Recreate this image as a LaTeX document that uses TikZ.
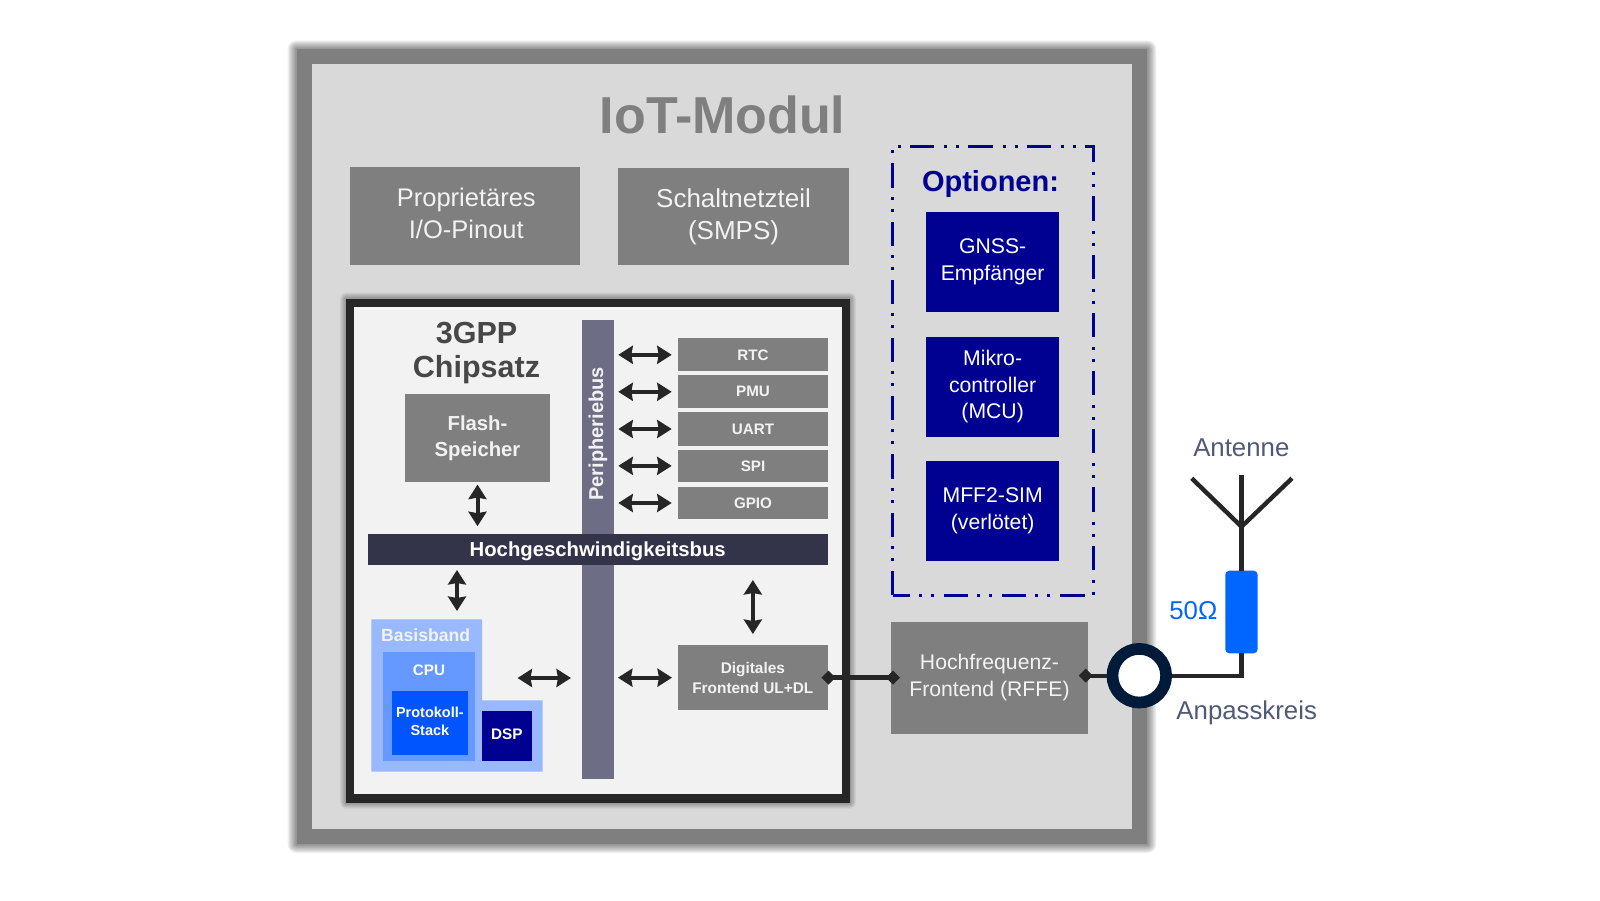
\documentclass[tikz,border=0pt]{standalone}
\usepackage{fontspec}
\setmainfont{Liberation Sans}
\usetikzlibrary{arrows.meta,calc}
\definecolor{grayA}{HTML}{7F7F7F}
\definecolor{lightA}{HTML}{D9D9D9}
\definecolor{chipbg}{HTML}{F2F2F2}
\definecolor{ink}{HTML}{262626}
\definecolor{navyA}{HTML}{000091}
\definecolor{pbusc}{HTML}{6D6E85}
\definecolor{hbusc}{HTML}{33344A}
\definecolor{bbA}{HTML}{99B9FF}
\definecolor{bbB}{HTML}{6699FF}
\definecolor{bbC}{HTML}{0055FF}
\definecolor{resc}{HTML}{0066FF}
\definecolor{slate}{HTML}{505A78}
\definecolor{ringc}{HTML}{001A3A}
\newcommand{\fs}[2]{\fontsize{#1}{#2}\selectfont}
\newcommand{\softshadow}[5]{%
  \foreach \sd in {1,...,#5}{%
    \fill[black,opacity=0.055,rounded corners=\sd pt] (#1-\sd,#2-\sd) rectangle (#3+\sd,#4+\sd);
  }}
\newcommand{\bx}[7]{%
  \node[#6,inner sep=0pt,outer sep=0pt,anchor=north west,minimum width=#4pt-#2pt,minimum height=#5pt-#3pt] (#1) at (#2,#3) {#7};}
\tikzset{
  graybox/.style={fill=grayA,text=chipbg,align=center},
  periph/.style={graybox,font=\bfseries\fs{15.2}{18}},
  optbox/.style={fill=navyA,text=white,align=center,font=\fs{21.2}{26.5}},
  biarrow/.style={line width=4pt,draw=ink,{Stealth[length=14.5pt,width=18pt,inset=1.5pt]}-{Stealth[length=14.5pt,width=18pt,inset=1.5pt]}},
  dialine/.style={line width=4.4pt,draw=ink},
  wire/.style={line width=4.4pt,draw=ink,line join=miter},
  lbl/.style={text=slate,font=\fs{25.8}{30},inner sep=0pt},
}
\begin{document}
\begin{tikzpicture}[x=1pt,y=-1pt]
\useasboundingbox (0,0) rectangle (1600,900);
\fill[white] (0,0) rectangle (1600,900);
% outer module
\softshadow{296.5}{49.3}{1147.3}{844}{9}
\bx{outer}{296.5}{49.3}{1147.3}{844}{fill=grayA}{}
\bx{inner}{311.6}{64.3}{1132.3}{828.7}{fill=lightA}{}
\node[text=grayA,font=\bfseries\fs{52}{56},inner sep=0pt] (title) at (722.6,115) {IoT-Modul};
\bx{pin}{350.4}{167.3}{580.2}{265.3}{graybox,font=\fs{25.5}{32.4}}{\hspace{2pt}\strut Proprietäres\\\hspace{2pt}\strut I/O-Pinout}
\bx{smps}{618.2}{168.3}{848.8}{265.3}{graybox,font=\fs{26}{32.4}}{\strut Schaltnetzteil\\\strut (SMPS)}
% options
\draw[navyA,line width=3pt,dash pattern=on 24.3pt off 9.9pt on 3pt off 9pt on 3pt off 9pt]
  (892.8,595) -- (892.8,146.7) -- (1093.3,146.7) -- (1093.3,595) -- (892.8,595);
\node[text=navyA,font=\bfseries\fs{29}{32},inner sep=0pt] (opt) at (990.5,183.5) {Optionen:};
\bx{gnss}{926.3}{212}{1059}{312}{optbox}{\raisebox{-1.6pt}{GNSS-}\\\raisebox{-1.6pt}{Empfänger}}
\bx{mcu}{926.3}{337}{1059}{436.7}{optbox}{Mikro-\\controller\\(MCU)}
\bx{sim}{926.3}{460.7}{1059}{561.3}{optbox}{MFF2-SIM\\(verlötet)}
% chip
\softshadow{346.2}{298.7}{849.8}{802.7}{6}
\bx{chip}{346.2}{298.7}{849.8}{802.7}{fill=ink}{}
\bx{chipin}{354.4}{307.3}{841.6}{794}{fill=chipbg}{}
\node[text=ink!85!white,align=center,font=\bfseries\fs{30.5}{34.4},inner sep=0pt] (chiplabel) at (476.5,353) {3GPP\\Chipsatz};
\bx{flash}{405}{394}{550}{481.6}{graybox,font=\bfseries\fs{20.3}{26}}{Flash-\\Speicher}
% buses
\bx{pbus}{581.7}{319.7}{613.7}{779.3}{fill=pbusc}{}
\bx{hbus}{367.9}{533.7}{827.5}{565.3}{fill=hbusc,text=white,font=\bfseries\fs{20.3}{24}}{\raisebox{-6.6pt}[0pt][0pt]{Hochgeschwindigkeitsbus}}
\node[rotate=90,text=chipbg,font=\bfseries\fs{20}{24},inner sep=0pt] (pbuslabel) at (598,434) {Peripheriebus};
% peripherals
\bx{rtc}{678.3}{338.3}{827.7}{371.3}{periph}{RTC}
\bx{pmu}{678.3}{375.3}{827.7}{408.3}{periph}{\raisebox{-1.6pt}{PMU}}
\bx{uart}{678.3}{412.3}{827.7}{445.7}{periph}{UART}
\bx{spi}{678.3}{449.7}{827.7}{482}{periph}{SPI}
\bx{gpio}{678.3}{486.7}{827.7}{519.3}{periph}{GPIO}
\foreach \p in {rtc,pmu,uart,spi,gpio}{
  \draw[biarrow,shorten <=4.6pt,shorten >=6.6pt] (pbus.east |- \p.west) -- (\p.west);
}
% digital frontend
\bx{dfe}{678.2}{645}{827.5}{710.3}{graybox,font=\bfseries\fs{15.4}{20}}{\raisebox{-2pt}{Digitales}\\\raisebox{-2pt}{Frontend UL+DL}}
% baseband
\fill[bbA] (371.4,619.3) -- (482,619.3) -- (482,700.3) -- (542.5,700.3) -- (542.5,771.7) -- (371.4,771.7) -- cycle;
\coordinate (bbtop) at (457,619.3);
\coordinate (bbright) at (482,678);
\node[text=chipbg,font=\bfseries\fs{17.6}{20},inner sep=0pt] (bblabel) at (425.7,635) {Basisband};
\bx{cpu}{382.5}{652}{474.6}{761.3}{fill=bbB}{}
\node[text=white,font=\bfseries\fs{15.2}{18},inner sep=0pt] (cpulabel) at (429,670) {CPU};
\bx{stack}{391.8}{690.7}{467.9}{755.3}{fill=bbC,text=white,align=center,font=\bfseries\fs{14.5}{18}}{\raisebox{4pt}{Protokoll-}\\\raisebox{4pt}{Stack}}
\bx{dsp}{482}{710.7}{531.8}{761.3}{fill=navyA,text=white,font=\bfseries\fs{15.3}{18}}{\raisebox{4pt}{DSP}}
% internal arrows
\draw[biarrow,shorten <=3pt,shorten >=7.5pt] (flash.south) -- (hbus.north -| flash.south);
\draw[biarrow,shorten <=4.7pt,shorten >=8.3pt] (hbus.south -| bbtop) -- (bbtop);
\draw[biarrow,shorten <=14.7pt,shorten >=11pt] (hbus.south -| dfe.north) -- (dfe.north);
\draw[biarrow,shorten <=35.5pt,shorten >=10.7pt] (bbright) -- (pbus.west |- bbright);
\draw[biarrow,shorten <=4.2pt,shorten >=6.2pt] (pbus.east |- dfe.west) -- (dfe.west);
% RF
\bx{rffe}{890.7}{621.7}{1088.3}{733.7}{graybox,font=\fs{21.2}{26.4}}{Hochfrequenz-\\Frontend (RFFE)}
\draw[dialine,{Diamond[length=14pt,width=14pt]}-{Diamond[length=14pt,width=14pt]},shorten <=-6.1pt,shorten >=-9.3pt] (dfe.east) -- (rffe.west |- dfe.east);
\node[circle,draw=ringc,line width=11.7pt,fill=white,minimum size=53.7pt,inner sep=0pt] (ring) at (1139.3,675.7) {};
\node[fill=resc,rounded corners=4pt,minimum width=32.4pt,minimum height=82.6pt,inner sep=0pt,outer sep=0pt] (res) at (1241.5,612) {};
\coordinate (antbase) at (1241.5,526.7);
\coordinate (anttop) at (1241.5,475);
\coordinate (antl) at (1191.7,478.3);
\coordinate (antr) at (1292,478.3);
\draw[dialine,{Diamond[length=14pt,width=14pt]}-,shorten <=-9.6pt] (rffe.east |- ring.west) -- (ring.west);
\draw[wire] (ring.east) -| (res.south);
\draw[wire] (res.north) -- (anttop);
\draw[wire] (antl) -- (antbase) -- (antr);
\node[lbl] (antlabel) at (1241.3,447.3) {Antenne};
\node[lbl] (anplabel) at (1246.7,712.5) {Anpasskreis};
\node[lbl,text=resc] (ohm) at (1193.3,610.7) {50Ω};
\end{tikzpicture}
\end{document}
